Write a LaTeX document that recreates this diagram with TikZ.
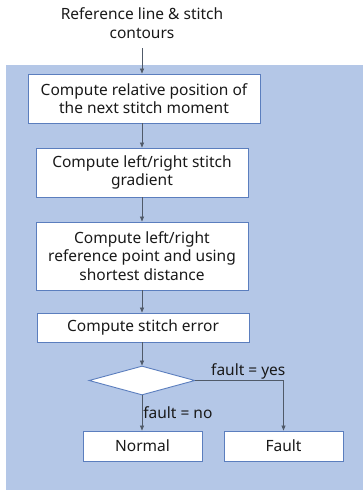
\documentclass[tikz,border=0pt]{standalone}
\usepackage{fontspec}
\setmainfont{Noto Sans}
\usetikzlibrary{arrows.meta,shapes.geometric}
\definecolor{bgblue}{RGB}{180,199,231}
\definecolor{boxline}{RGB}{91,126,190}
\definecolor{arrowc}{RGB}{80,90,105}
\begin{document}
\begin{tikzpicture}[x=1pt,y=-1pt,
  every node/.style={font=\fontsize{15.5}{18.5}\selectfont, text=black!90},
  procbox/.style={draw=boxline, line width=0.9pt, fill=white, align=center, inner sep=0pt},
  flow/.style={draw=arrowc, line width=0.7pt, -{Triangle[length=5pt,width=4pt]}},
  lbl/.style={inner sep=1pt}
]
\useasboundingbox (0,0) rectangle (363,490);
\fill[bgblue] (6,65) rectangle (363,490);
\node[align=center] (in) at (142,23) {Reference line \& stitch\\contours};
\node[procbox, minimum width=232pt, minimum height=49pt] (b1) at (144,98.5) {Compute relative position of\\the next stitch moment};
\node[procbox, minimum width=212pt, minimum height=49pt] (b2) at (142,172.5) {Compute left/right stitch\\gradient};
\node[procbox, minimum width=212pt, minimum height=68pt] (b3) at (142,256) {Compute left/right\\reference point and using\\shortest distance};
\node[procbox, minimum width=212pt, minimum height=29pt] (b4) at (143,327.5) {Compute stitch error};
\node[draw=boxline, line width=0.9pt, fill=white, diamond, aspect=3.6, minimum width=106pt, minimum height=29pt, inner sep=0pt] (d) at (142,380.5) {};
\node[procbox, minimum width=119pt, minimum height=30pt] (n) at (142.5,446) {Normal};
\node[procbox, minimum width=119pt, minimum height=30pt] (f) at (283.5,446) {Fault};
\coordinate (in1) at (142,48);
\draw[flow] (in1) -- (b1.north -| in1);
\draw[flow] (b1.south -| in1) -- (b2.north -| in1);
\draw[flow] (b2.south -| in1) -- (b3.north -| in1);
\draw[flow] (b3.south -| in1) -- (b4.north -| in1);
\draw[flow] (b4.south -| in1) -- (d.north);
\draw[flow] (d.south) -- node[lbl, anchor=west, pos=0.5] {fault = no} (n.north -| d.south);
\draw[flow] (d.east) -| node[lbl, anchor=south, pos=0.3] {fault = yes} (f.north);
\end{tikzpicture}
\end{document}
